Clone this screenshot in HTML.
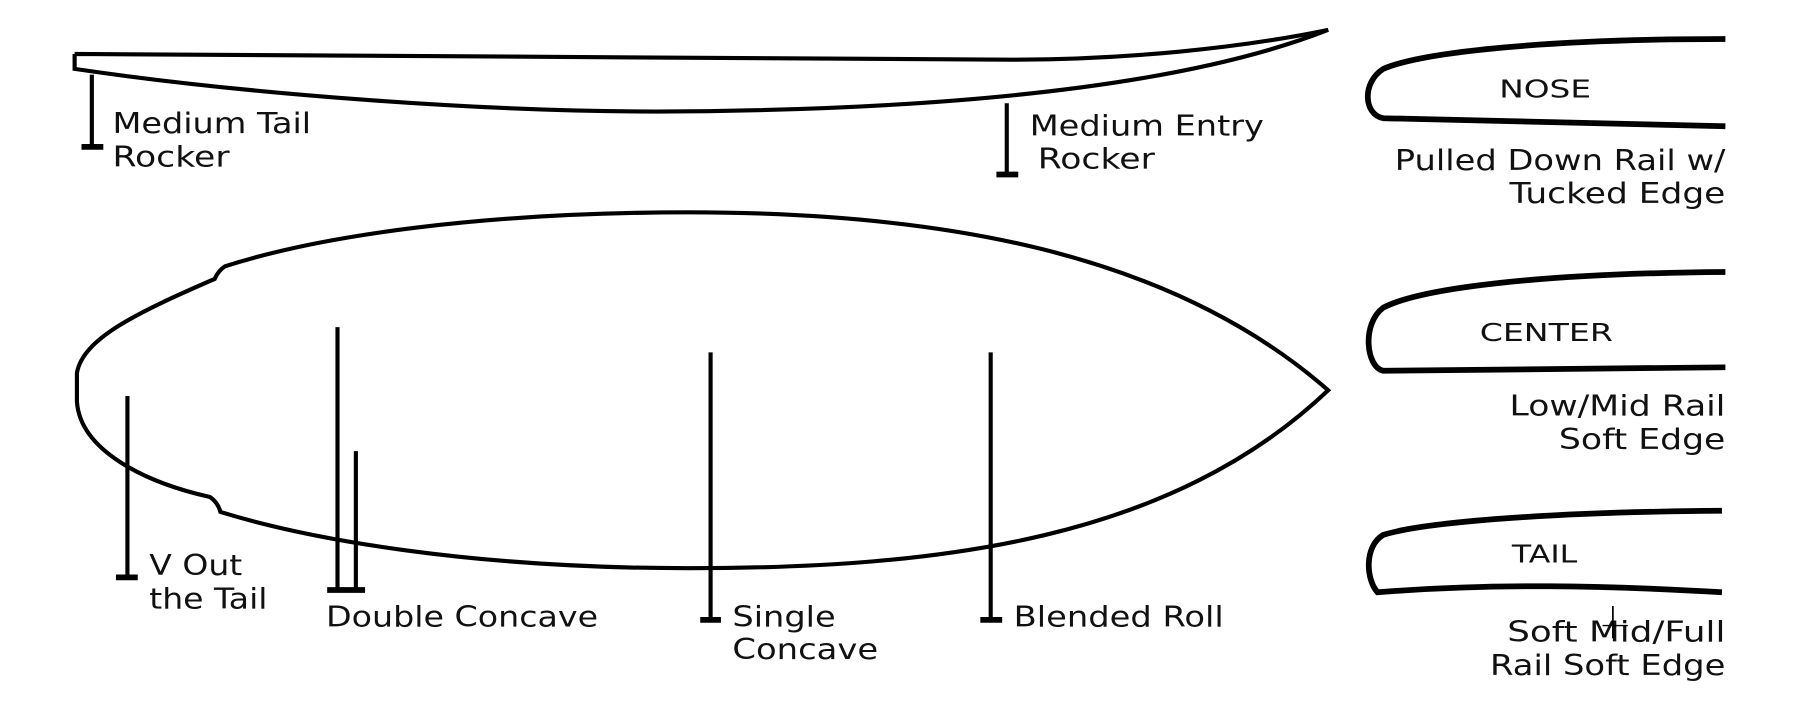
<!DOCTYPE html>
<html><head><meta charset="utf-8"><style>
html,body{margin:0;padding:0;background:#fff;width:1800px;height:722px;overflow:hidden}
svg{display:block}
text{font-family:"DejaVu Sans","Liberation Sans",sans-serif;font-size:25px;fill:#111}
.s{fill:none;stroke:#000;stroke-width:3.6}
.t{fill:none;stroke:#000;stroke-width:5}
</style></head><body>
<svg width="1800" height="722" viewBox="0 0 1568 629" preserveAspectRatio="none">
<path class="s" d="M65,47 L65,60 C200,80 420,99 600,97 C800,95 1020,80 1157,26 C1080,42 980,52 880,52 L65,47"/>
<line class="s" x1="80" y1="65" x2="80" y2="128"/><line class="t" x1="71" y1="128" x2="90" y2="128"/>
<line class="s" x1="877" y1="90" x2="877" y2="152"/><line class="t" x1="868" y1="152" x2="887" y2="152"/>
<text x="98" y="116" textLength="173" lengthAdjust="spacingAndGlyphs">Medium Tail</text>
<text x="98" y="145" textLength="102" lengthAdjust="spacingAndGlyphs">Rocker</text>
<text x="897" y="118" textLength="204" lengthAdjust="spacingAndGlyphs">Medium Entry</text>
<text x="904" y="147" textLength="102" lengthAdjust="spacingAndGlyphs">Rocker</text>
<path class="s" d="M1157,340 C1020,220 820,185 600,185 C420,185 280,205 196,232 Q190,236 187,243 C120,272 72,295 67,325 L67,350 C70,392 125,420 183,433 Q190,438 192,446 C270,470 410,495 600,495 C820,495 1020,470 1157,340 Z"/>
<line class="s" x1="111" y1="345" x2="111" y2="503"/><line class="t" x1="101" y1="503" x2="120" y2="503"/>
<line class="s" x1="294" y1="285" x2="294" y2="514"/><line class="s" x1="310" y1="393" x2="310" y2="514"/><line class="t" x1="285" y1="514" x2="318" y2="514"/>
<line class="s" x1="619" y1="307" x2="619" y2="540"/><line class="t" x1="610" y1="540" x2="628" y2="540"/>
<line class="s" x1="863" y1="307" x2="863" y2="540"/><line class="t" x1="854" y1="540" x2="873" y2="540"/>
<text x="130" y="501" textLength="81" lengthAdjust="spacingAndGlyphs">V Out</text>
<text x="130" y="530" textLength="103" lengthAdjust="spacingAndGlyphs">the Tail</text>
<text x="284" y="546" textLength="237" lengthAdjust="spacingAndGlyphs">Double Concave</text>
<text x="638" y="546" textLength="90" lengthAdjust="spacingAndGlyphs">Single</text>
<text x="638" y="574" textLength="127" lengthAdjust="spacingAndGlyphs">Concave</text>
<text x="883" y="546" textLength="183" lengthAdjust="spacingAndGlyphs">Blended Roll</text>
<path class="t" d="M1503,34 C1350,34 1240,45 1205,60 C1186,72 1188,100 1205,103 L1503,110"/>
<text x="1306" y="85" textLength="80" lengthAdjust="spacingAndGlyphs" style="font-size:22px">NOSE</text>
<text x="1215" y="148" textLength="288" lengthAdjust="spacingAndGlyphs">Pulled Down Rail w/</text>
<text x="1315" y="177" textLength="188" lengthAdjust="spacingAndGlyphs">Tucked Edge</text>
<path class="t" d="M1503,237 C1350,238 1240,250 1205,268 C1186,282 1190,320 1205,323 L1503,320"/>
<text x="1289" y="297" textLength="116" lengthAdjust="spacingAndGlyphs" style="font-size:22px">CENTER</text>
<text x="1315" y="362" textLength="188" lengthAdjust="spacingAndGlyphs">Low/Mid Rail</text>
<text x="1358" y="391" textLength="145" lengthAdjust="spacingAndGlyphs">Soft Edge</text>
<path class="t" d="M1500,445 C1350,446 1240,455 1205,466 C1188,476 1190,505 1200,516 C1300,508 1400,510 1500,516"/>
<text x="1317" y="490" textLength="57" lengthAdjust="spacingAndGlyphs" style="font-size:22px">TAIL</text>
<text x="1313" y="559" textLength="190" lengthAdjust="spacingAndGlyphs">Soft Mid/Full</text>
<text x="1298" y="588" textLength="205" lengthAdjust="spacingAndGlyphs">Rail Soft Edge</text>
<line x1="1405" y1="528" x2="1405" y2="556" stroke="#000" stroke-width="1.5"/>
<line x1="1396" y1="545" x2="1418" y2="545" stroke="#000" stroke-width="1.2"/>
</svg>
</body></html>
